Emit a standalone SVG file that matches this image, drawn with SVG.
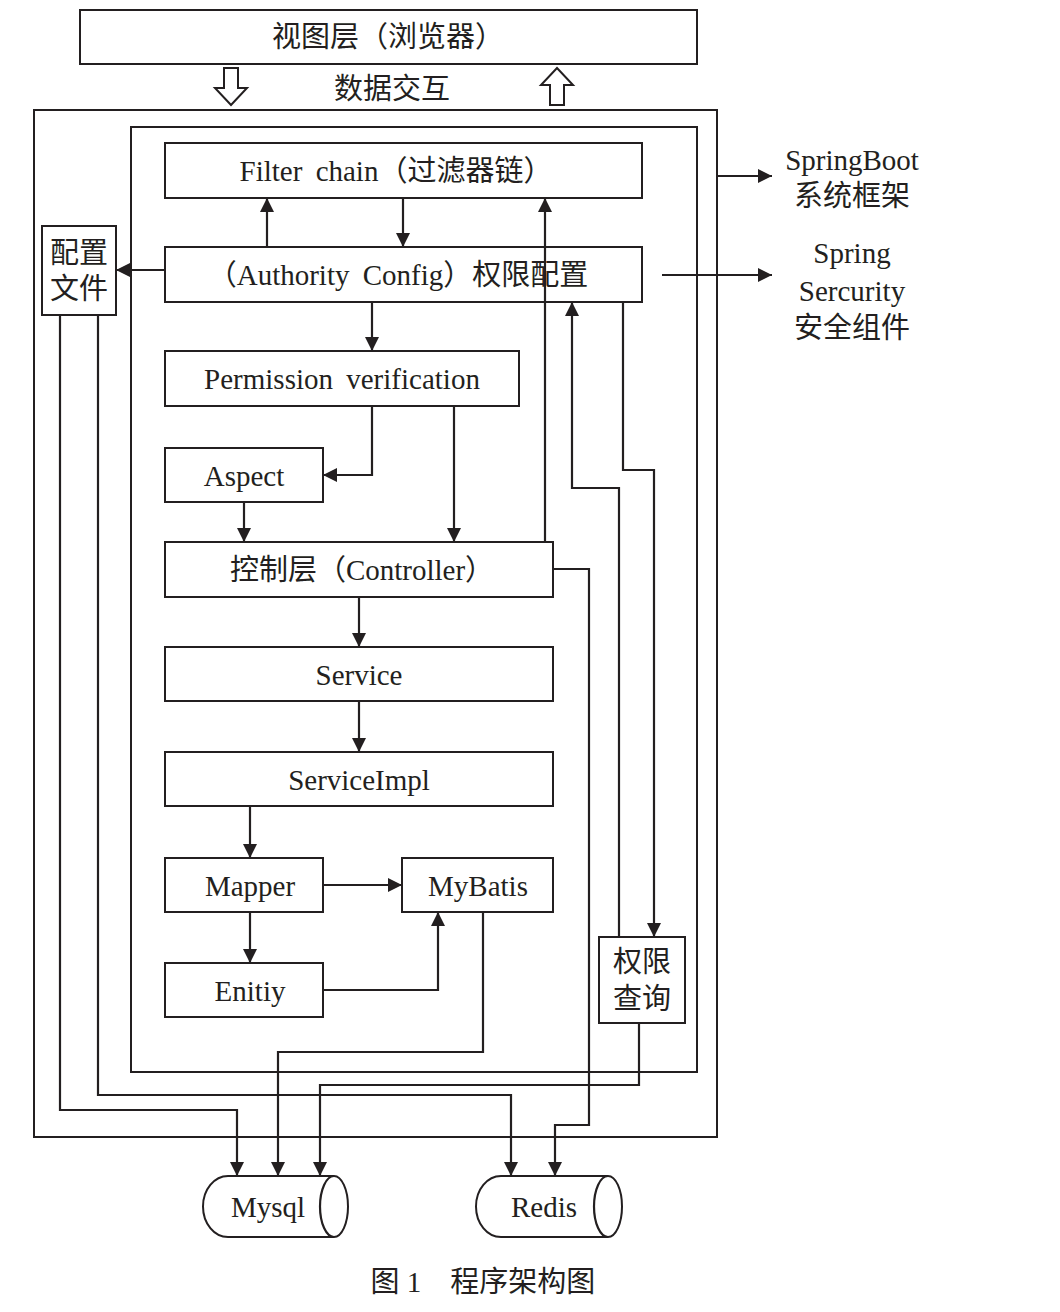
<svg xmlns="http://www.w3.org/2000/svg" width="1060" height="1312" viewBox="0 0 1060 1312">
<defs>
<style>
.b{fill:none;stroke:#231f20;stroke-width:2}
.l{fill:none;stroke:#231f20;stroke-width:2.2}
text{font-family:"Liberation Serif","Noto Sans CJK SC",serif;font-size:29px;fill:#231f20;text-anchor:middle}
</style>
<marker id="a" viewBox="0 0 10 10" refX="10" refY="5" markerWidth="14" markerHeight="14" markerUnits="userSpaceOnUse" orient="auto"><path d="M0,0L10,5L0,10z" fill="#231f20"/></marker>
</defs>
<rect width="1060" height="1312" fill="#fff"/>
<g id="view"><rect class="b" x="80" y="10" width="617" height="54"/><text x="388" y="47">视图层（浏览器）</text></g>
<g id="exchange">
<path class="b" d="M224,68h14v20h9l-16,17l-16,-17h9z"/>
<path class="b" d="M550,105h14v-20h9l-16,-17l-16,17h9z"/>
<text x="392" y="99">数据交互</text>
</g>
<g id="outer"><rect class="b" x="34" y="110" width="683" height="1027"/></g>
<g id="inner"><rect class="b" x="131" y="127" width="566" height="945"/></g>
<g id="springboot"><text x="852" y="170">SpringBoot</text><text x="852" y="206">系统框架</text></g>
<g id="security"><text x="852" y="263">Spring</text><text x="852" y="301">Sercurity</text><text x="852" y="338">安全组件</text></g>
<g id="connectors">
<path class="l" d="M717,176H772" marker-end="url(#a)"/>
<path class="l" d="M662,275H772" marker-end="url(#a)"/>
<path class="l" d="M267,247V198" marker-end="url(#a)"/>
<path class="l" d="M403,198V247" marker-end="url(#a)"/>
<path class="l" d="M545,542V198" marker-end="url(#a)"/>
<path class="l" d="M165,270H116" marker-end="url(#a)"/>
<path class="l" d="M372,302V351" marker-end="url(#a)"/>
<path class="l" d="M372,406V475H323" marker-end="url(#a)"/>
<path class="l" d="M454,406V542" marker-end="url(#a)"/>
<path class="l" d="M244,502V542" marker-end="url(#a)"/>
<path class="l" d="M359,597V647" marker-end="url(#a)"/>
<path class="l" d="M359,701V752" marker-end="url(#a)"/>
<path class="l" d="M250,806V858" marker-end="url(#a)"/>
<path class="l" d="M323,885H402" marker-end="url(#a)"/>
<path class="l" d="M250,912V963" marker-end="url(#a)"/>
<path class="l" d="M323,990H438V912" marker-end="url(#a)"/>
<path class="l" d="M623,302V470H654V937" marker-end="url(#a)"/>
<path class="l" d="M619,937V488H572V302" marker-end="url(#a)"/>
<path class="l" d="M553,569H589V1125H555V1176" marker-end="url(#a)"/>
<path class="l" d="M483,912V1052H278V1176" marker-end="url(#a)"/>
<path class="l" d="M639,1023V1085H320V1176" marker-end="url(#a)"/>
<path class="l" d="M60,315V1110H237V1176" marker-end="url(#a)"/>
<path class="l" d="M98,315V1095H511V1176" marker-end="url(#a)"/>
</g>
<g id="filter"><rect class="b" x="165" y="143" width="477" height="55"/><text x="396" y="181" word-spacing="6">Filter chain（过滤器链）</text></g>
<g id="authority"><rect class="b" x="165" y="247" width="477" height="55"/><text x="398" y="285" word-spacing="6">（Authority Config）权限配置</text></g>
<g id="config"><rect class="b" x="42" y="226" width="74" height="89"/><text x="79" y="263">配置</text><text x="79" y="299">文件</text></g>
<g id="permission"><rect class="b" x="165" y="351" width="354" height="55"/><text x="342" y="389" word-spacing="6">Permission verification</text></g>
<g id="aspect"><rect class="b" x="165" y="448" width="158" height="54"/><text x="244" y="486">Aspect</text></g>
<g id="controller"><rect class="b" x="165" y="542" width="388" height="55"/><text x="362" y="580">控制层（Controller）</text></g>
<g id="service"><rect class="b" x="165" y="647" width="388" height="54"/><text x="359" y="685">Service</text></g>
<g id="serviceimpl"><rect class="b" x="165" y="752" width="388" height="54"/><text x="359" y="790">ServiceImpl</text></g>
<g id="mapper"><rect class="b" x="165" y="858" width="158" height="54"/><text x="250" y="896">Mapper</text></g>
<g id="mybatis"><rect class="b" x="402" y="858" width="151" height="54"/><text x="478" y="896">MyBatis</text></g>
<g id="entity"><rect class="b" x="165" y="963" width="158" height="54"/><text x="250" y="1001">Enitiy</text></g>
<g id="query"><rect class="b" x="599" y="937" width="86" height="86"/><text x="642" y="972">权限</text><text x="642" y="1009">查询</text></g>
<g id="mysql"><path class="b" d="M228,1176H334A14,30.5 0 0 1 334,1237H228A25,30.5 0 0 1 228,1176z"/><path class="l" d="M334,1176A14,30.5 0 0 0 334,1237"/><text x="268" y="1217">Mysql</text></g>
<g id="redis"><path class="b" d="M501,1176H608A14,30.5 0 0 1 608,1237H501A25,30.5 0 0 1 501,1176z"/><path class="l" d="M608,1176A14,30.5 0 0 0 608,1237"/><text x="544" y="1217">Redis</text></g>
<text x="483" y="1292">图 1　程序架构图</text>
</svg>
